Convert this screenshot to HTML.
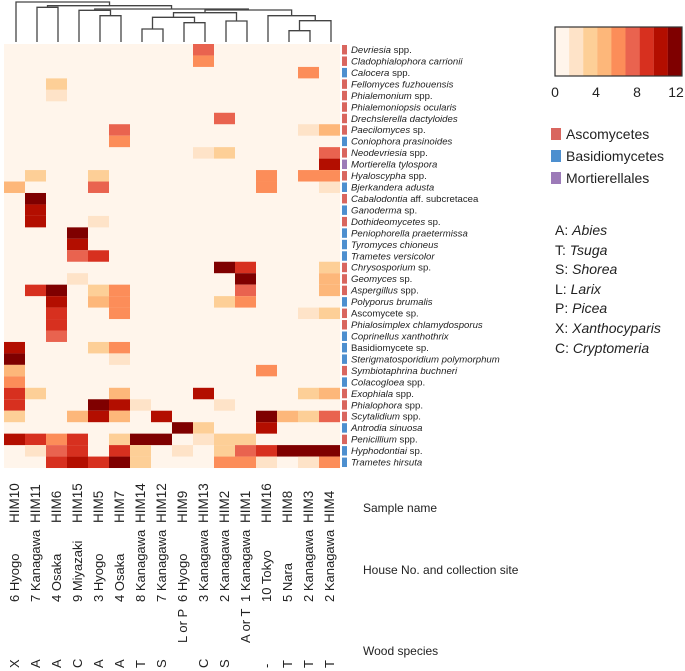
<!DOCTYPE html>
<html><head><meta charset="utf-8"><style>
body{margin:0;background:#fff;}
svg{display:block;font-family:"Liberation Sans","DejaVu Sans",sans-serif;}
</style></head><body>
<svg id="chart" width="685" height="671" viewBox="0 0 685 671">
<g id="dendro" stroke="#444" stroke-width="1.3" fill="none"></g>
<g id="cells"></g>
<g id="rowlabels"></g>
<g id="collabels"></g>
<g id="legend"></g>
<g font-size="14" fill="#222">
<rect x="551" y="128" width="10" height="12" fill="#d9665f"/>
<text x="566" y="139">Ascomycetes</text>
<rect x="551" y="150" width="10" height="12" fill="#4d8fcf"/>
<text x="566" y="161">Basidiomycetes</text>
<rect x="551" y="172" width="10" height="12" fill="#9c7ab8"/>
<text x="566" y="183">Mortierellales</text>
</g>
<g font-size="14" fill="#222">
<text x="555" y="235">A: <tspan font-style="italic">Abies</tspan></text>
<text x="555" y="255">T: <tspan font-style="italic">Tsuga</tspan></text>
<text x="555" y="274">S: <tspan font-style="italic">Shorea</tspan></text>
<text x="555" y="294">L: <tspan font-style="italic">Larix</tspan></text>
<text x="555" y="313">P: <tspan font-style="italic">Picea</tspan></text>
<text x="555" y="333">X: <tspan font-style="italic">Xanthocyparis</tspan></text>
<text x="555" y="353">C: <tspan font-style="italic">Cryptomeria</tspan></text>
</g>
<g font-size="12" fill="#222">
<text x="363" y="512">Sample name</text>
<text x="363" y="574">House No. and collection site</text>
<text x="363" y="655">Wood species</text>
</g>
</svg>
<script>
const samples=["HIM10","HIM11","HIM6","HIM15","HIM5","HIM7","HIM14","HIM12","HIM9","HIM13","HIM2","HIM1","HIM16","HIM8","HIM3","HIM4"];
const sites=["6 Hyogo","7 Kanagawa","4 Osaka","9 Miyazaki","3 Hyogo","4 Osaka","8 Kanagawa","7 Kanagawa","6 Hyogo","3 Kanagawa","2 Kanagawa","1 Kanagawa","10 Tokyo","5 Nara","2 Kanagawa","2 Kanagawa"];
const woods=["X","A","A","C","A","A","T","S","L or P","C","S","A or T","-","T","T","T"];
const taxa=[["Devriesia"," spp.","A"],["Cladophialophora carrionii","","A"],["Calocera"," spp.","B"],["Fellomyces fuzhouensis","","A"],["Phialemonium"," spp.","A"],["Phialemoniopsis ocularis","","A"],["Drechslerella dactyloides","","A"],["Paecilomyces"," sp.","A"],["Coniophora prasinoides","","B"],["Neodevriesia"," spp.","A"],["Mortierella tylospora","","M"],["Hyaloscypha"," spp.","A"],["Bjerkandera adusta","","B"],["Cabalodontia"," aff. subcretacea","A"],["Ganoderma"," sp.","B"],["Dothideomycetes"," sp.","A"],["Peniophorella praetermissa","","B"],["Tyromyces chioneus","","B"],["Trametes versicolor","","B"],["Chrysosporium"," sp.","A"],["Geomyces"," sp.","A"],["Aspergillus"," spp.","A"],["Polyporus brumalis","","B"],["Ascomycete sp.","","A"],["Phialosimplex chlamydosporus","","A"],["Coprinellus xanthothrix","","B"],["Basidiomycete sp.","","B"],["Sterigmatosporidium polymorphum","","B"],["Symbiotaphrina buchneri","","A"],["Colacogloea"," spp.","B"],["Exophiala"," spp.","A"],["Phialophora"," spp.","A"],["Scytalidium"," spp.","A"],["Antrodia sinuosa","","B"],["Penicillium"," spp.","A"],["Hyphodontiai"," sp.","B"],["Trametes hirsuta","","B"]];
// nonzero values: [row, col, value]
const values=[[0,9,8],[1,9,6],[2,14,6],[3,2,3],[4,2,1],[6,10,8],[7,5,8],[7,14,1],[7,15,4],[8,5,6],[9,9,1],[9,10,3],[9,15,8],[10,15,10.5],
[11,1,3],[11,4,3],[11,12,6],[11,14,6],[11,15,6],[12,0,4],[12,4,8],[12,12,6],[12,15,1],[13,1,12],[14,1,10.5],[15,1,10.5],[15,4,1],
[16,3,12],[17,3,10.5],[18,3,8],[18,4,9],[19,10,12],[19,11,9],[19,15,3],[20,3,1],[20,11,12],[20,15,4],
[21,1,9],[21,2,12],[21,4,3],[21,5,6],[21,11,8],[21,15,4],[22,2,10.5],[22,4,4],[22,5,6],[22,10,3],[22,11,6],
[23,2,9],[23,5,6],[23,14,1],[23,15,3],[24,2,9],[25,2,8],[26,0,10.5],[26,4,3],[26,5,6],[27,0,12],[27,5,1],[28,0,4],[28,12,6],[29,0,6],
[30,0,9],[30,1,3],[30,5,4],[30,9,10.5],[30,14,3],[30,15,4],[31,0,9],[31,4,12],[31,5,10.5],[31,6,1],[31,10,1],
[32,0,3],[32,3,4],[32,4,10.5],[32,5,4],[32,7,10.5],[32,12,12],[32,13,4],[32,14,3],[32,15,8],[33,8,12],[33,9,3],[33,12,10.5],
[34,0,10.5],[34,1,9],[34,2,6],[34,3,9],[34,5,3],[34,6,12],[34,7,12],[34,9,1],[34,10,3],[34,11,3],
[35,1,1],[35,2,8],[35,3,9],[35,5,9],[35,6,3],[35,8,1],[35,10,3],[35,11,8],[35,12,9],[35,13,12],[35,14,12],[35,15,12],
[36,2,9],[36,3,10.5],[36,4,9],[36,5,12],[36,6,3],[36,10,6],[36,11,6],[36,12,1],[36,14,1],[36,15,6]];
const cbTicks=[0,4,8,12];
const palette=["#fff5eb","#fee3c8","#fdcf97","#fdb77a","#fc8d59","#e9634f","#d7301f","#b30e00","#7f0000"];
const NS="http://www.w3.org/2000/svg";
const X0=4,CW=21,Y0=44,RH=11.46;
function xs(c){return X0+c*CW;}
function ys(r){return Y0+r*RH;}
function color(v){return palette[Math.max(0,Math.min(8,Math.round(v/1.5)))];}
function mk(tag,attrs,parent){const e=document.createElementNS(NS,tag);for(const k in attrs)e.setAttribute(k,attrs[k]);parent.appendChild(e);return e;}
const cells=document.getElementById('cells');
const bg=mk('rect',{x:X0,y:Y0,width:CW*samples.length,height:RH*taxa.length,fill:palette[0]},cells);


values.forEach(([r,c,v])=>{
 const e=mk('rect',{x:xs(c),y:ys(r),width:CW,height:RH,fill:color(v)},cells);
 
 
});
const phy={A:"#d9665f",B:"#4d8fcf",M:"#9c7ab8"};
const rl=document.getElementById('rowlabels');
taxa.forEach((t,r)=>{
 const s=mk('rect',{x:342,y:ys(r)+1,width:5,height:RH-2,fill:phy[t[2]]},rl);
 
 
 const tx=mk('text',{x:351,y:ys(r)+9,'font-size':'9.6',fill:'#222'},rl);
 
 
 const plain=(t[0]==="Ascomycete sp."||t[0]==="Basidiomycete sp.");
 const a=mk('tspan',{'font-style':plain?'normal':'italic'},tx);a.textContent=t[0];
 if(t[1]){const b=mk('tspan',{},tx);b.textContent=t[1];}
});
const cl=document.getElementById('collabels');
function vlabel(txt,x,y,name,fs){const e=mk('text',{transform:`translate(${x},${y}) rotate(-90)`,'font-size':fs,fill:'#222'},cl);e.textContent=txt;
 
 }
samples.forEach((s,c)=>{const x=xs(c)+CW/2+4.5;
 vlabel(s,x,523,'sample-label','13.5');
 vlabel(sites[c],x,602,'site-label','13');
 vlabel(woods[c],x,woods[c].length>2?643:668,'wood-label','13');});
// colorbar
const lg=document.getElementById('legend');
palette.forEach((p,i)=>{const e=mk('rect',{x:555+i*14.1,y:27,width:14.2,height:49,fill:p},lg);
 
 });
const fr=mk('rect',{x:555,y:27,width:127,height:49,fill:'none',stroke:'#333','stroke-width':1.2},lg);


cbTicks.forEach(t=>{const e=mk('text',{x:555+t/12*123+ (t===12?-2:0),y:97,'font-size':'14','text-anchor':'middle',fill:'#222'},lg);e.textContent=t;
 
 });
// dendrogram
const dg=document.getElementById('dendro');
const L=c=>xs(c)+CW/2+1.5;
const links=[
[L(6),L(7),29,42,42],[L(8),L(9),22.7,42,42],[L(10),L(11),21,42,42],[L(13),L(14),30.7,42,42],[L(4),L(5),15.7,42,42],[L(1),L(2),7.3,42,42],
[(L(6)+L(7))/2,(L(8)+L(9))/2,17.3,29,22.7],[(L(13)+L(14))/2,L(15),20.7,30.7,42],
[L(3),(L(4)+L(5))/2,10.3,42,15.7],[L(12),((L(13)+L(14))/2+L(15))/2,15.7,42,20.7],
[((L(6)+L(7))/2+(L(8)+L(9))/2)/2,(L(10)+L(11))/2,12.7,17.3,21]
];
function seg(a,b,h,la,lb){mk('path',{d:`M${a},${la}V${h}H${b}V${lb}`},dg);}
links.forEach(l=>seg(...l));
const cC=(links[10][0]+links[10][1])/2, cD=(links[9][0]+links[9][1])/2;
seg(cC,cD,10,12.7,15.7);
const cA=(links[8][0]+links[8][1])/2, cB=(cC+cD)/2;
seg(cA,cB,9,10.3,10);
const cR2=(cA+cB)/2, c12=(L(1)+L(2))/2;
seg(c12,cR2,5.7,7.3,9);
seg(L(0),(c12+cR2)/2,2,42,5.7);
</script>
</body></html>
